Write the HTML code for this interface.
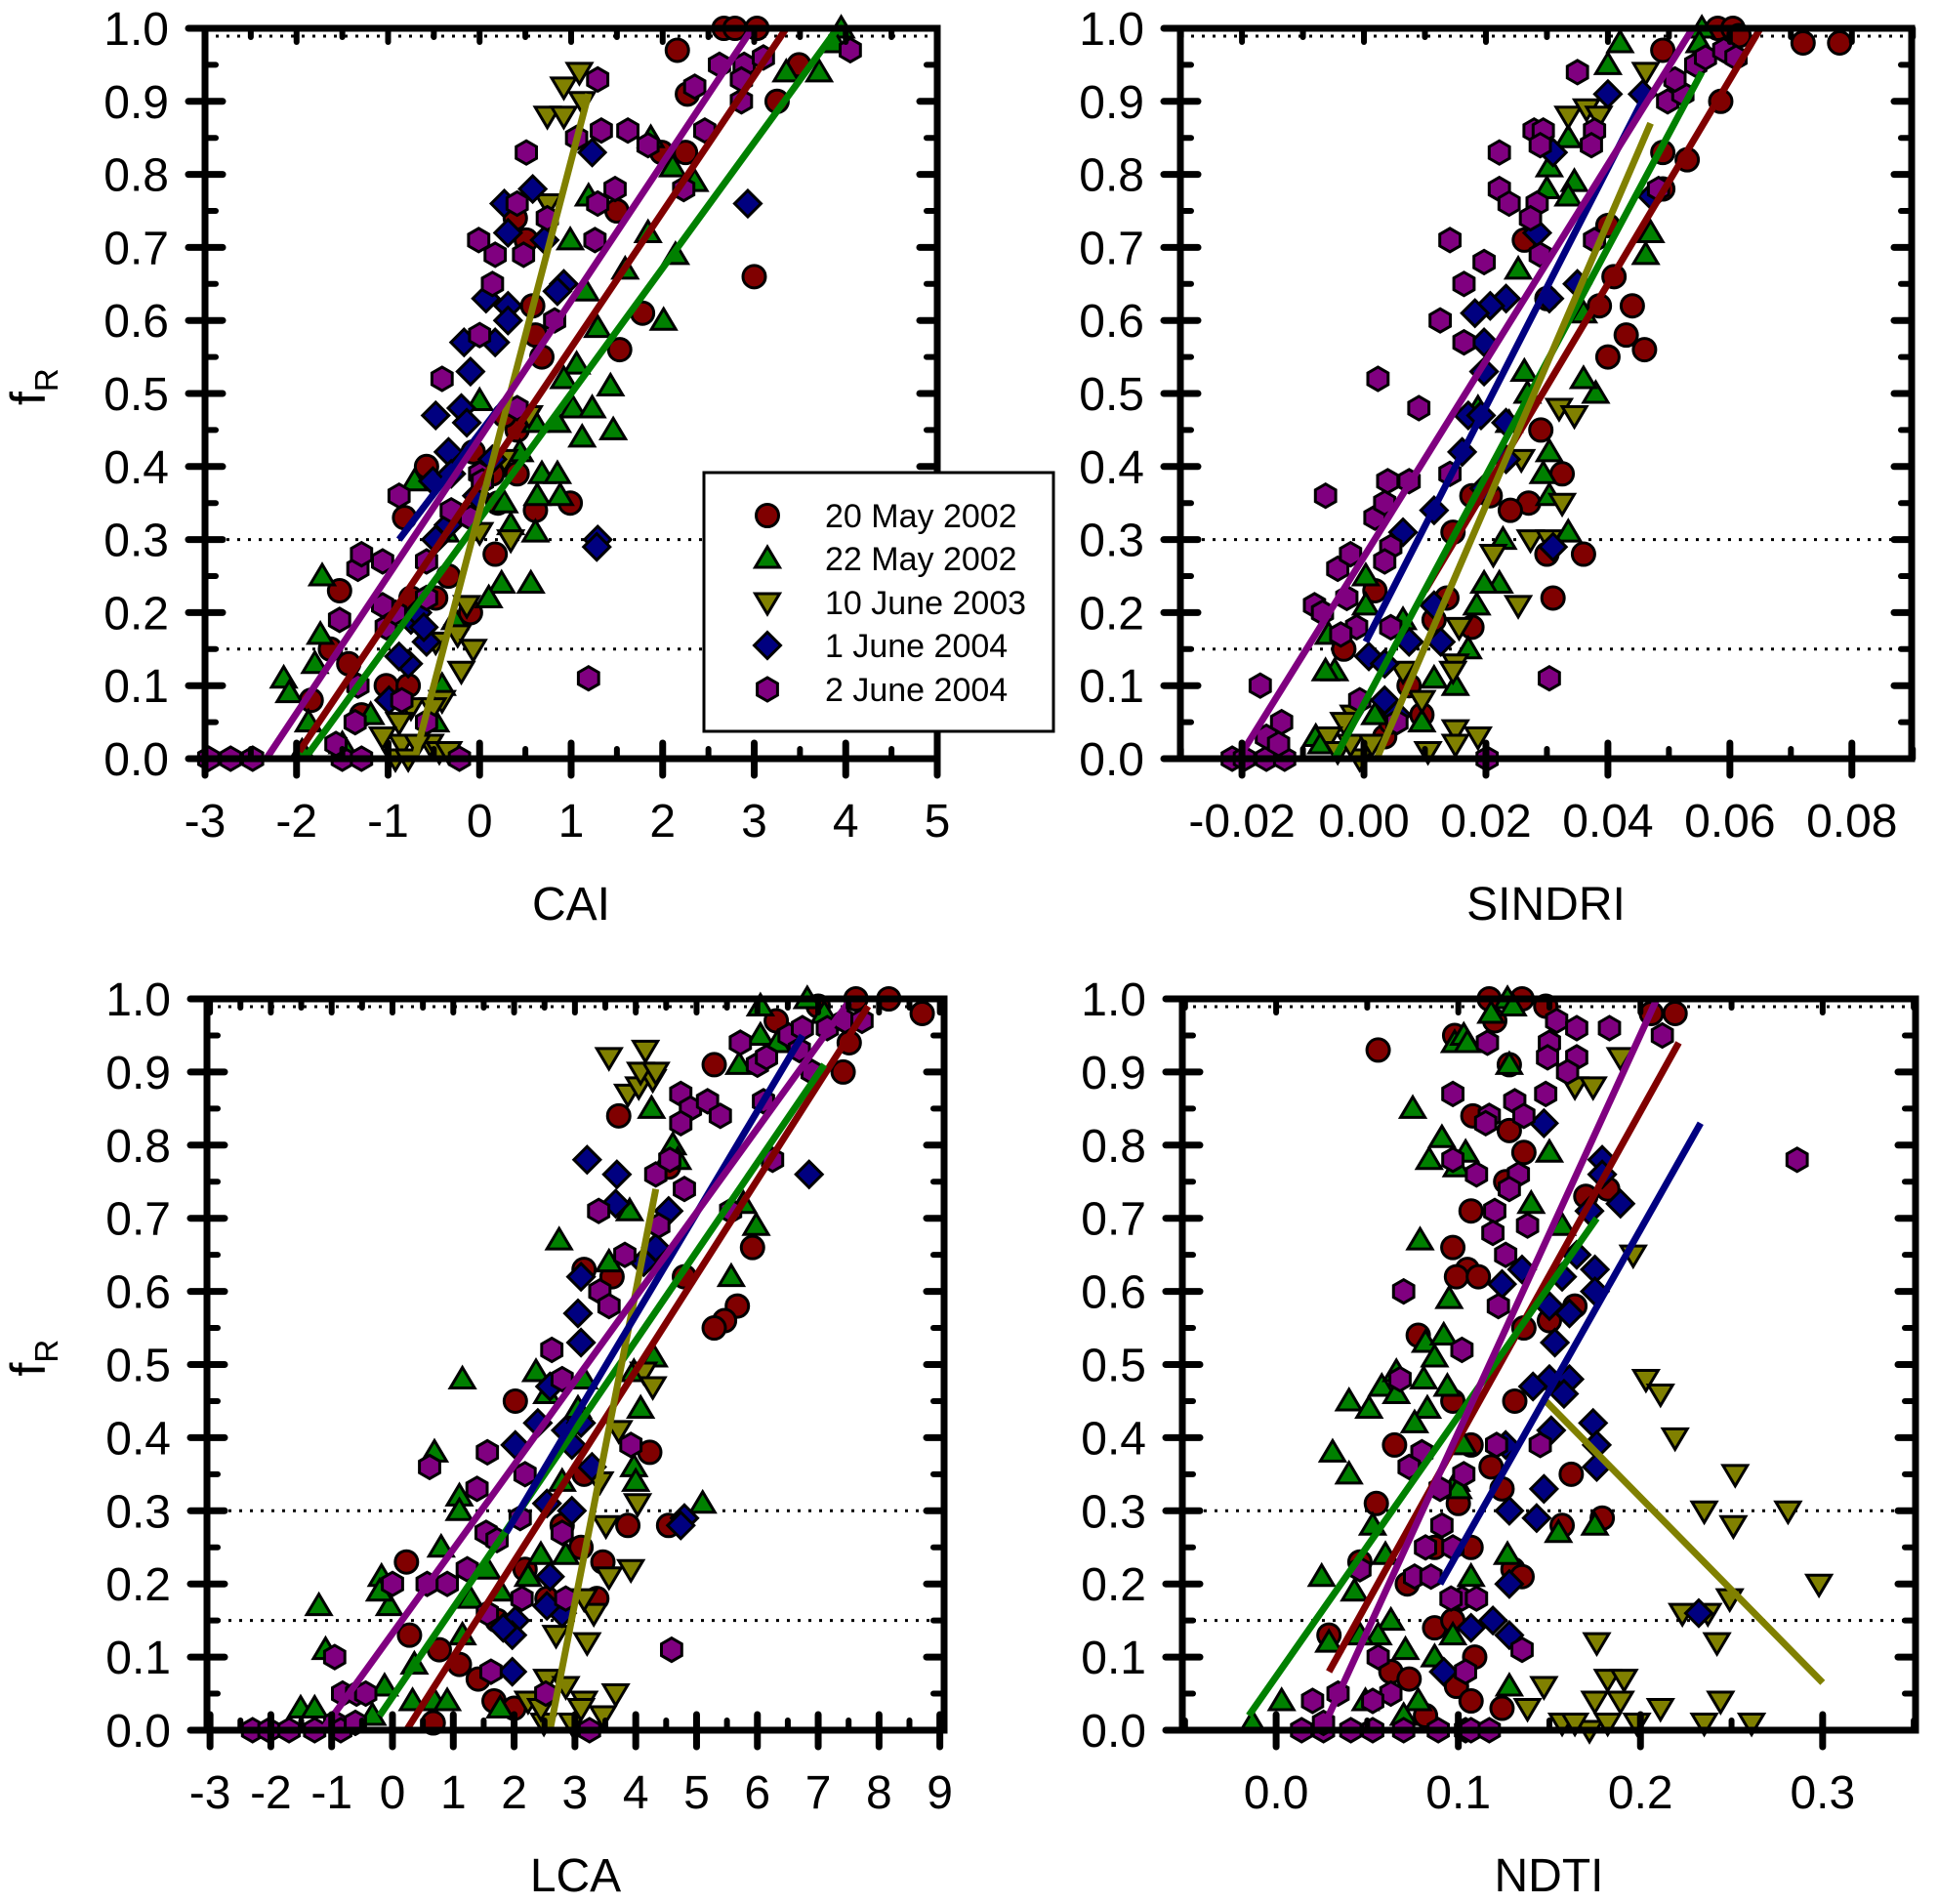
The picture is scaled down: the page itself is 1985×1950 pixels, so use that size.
<!DOCTYPE html>
<html><head><meta charset="utf-8"><style>
html,body{margin:0;padding:0;background:#fff;}
svg{display:block;font-family:"Liberation Sans",Arial,sans-serif;}
</style></head><body>
<svg id="chart" width="1985" height="1950" viewBox="0 0 1985 1950" xmlns="http://www.w3.org/2000/svg"></svg>
<script>
const seriesNames = ["20 May 2002","22 May 2002","10 June 2003","1 June 2004","2 June 2004"];
const caiRed=[2.67,1,2.79,1,3.03,1,2.16,0.97,2.27,0.91,2.25,0.83,3.25,0.9,3.49,0.95,3.0,0.66,1.99,0.83,1.5,0.75,1.78,0.61,1.53,0.56,0.99,0.35,0.61,0.34,0.41,0.39,0.39,0.74,0.51,0.71,0.58,0.62,0.61,0.58,0.68,0.55,0.41,0.45,0.27,0.47,-0.58,0.4,-0.82,0.33,-1.53,0.23,-1.63,0.15,-1.43,0.13,-1.84,0.08,-1.02,0.1,-0.78,0.1,-0.34,0.25,0.17,0.28,-0.1,0.2,-0.75,0.22,-0.48,0.22,-1.29,0.06,0.14,0.39,-0.07,0.42,0.2,0.35];
const caiGreen=[3.95,1,3.88,0.98,3.71,0.94,3.35,0.94,2.35,0.79,2.11,0.81,1.87,0.85,2.14,0.69,2.01,0.6,1.84,0.72,1.59,0.67,1.29,0.59,1.19,0.77,0.99,0.71,1.16,0.64,1.06,0.54,0.92,0.52,1.02,0.48,1.23,0.48,1.43,0.51,1.46,0.45,1.12,0.44,0.85,0.46,0.68,0.39,0.85,0.39,0.88,0.36,0.63,0.36,0.61,0.31,0.56,0.24,0.24,0.24,0.1,0.22,0.34,0.32,0.27,0.35,0.44,0.42,0.61,0.46,0,0.49,-0.37,0.31,-0.71,0.38,-1.72,0.25,-1.74,0.17,-1.8,0.13,-2.14,0.11,-2.08,0.09,-1.87,0.05,-1.94,0.01,-1.5,0.02,-1.19,0.06,-0.41,0.1,-0.48,0.05,-0.27,0.19];
const caiOlive=[0.92,0.92,1.09,0.94,1.12,0.9,0.74,0.88,0.92,0.88,0.75,0.76,0.54,0.47,0.27,0.41,0,0.31,-0.14,0.21,-0.24,0.17,-0.2,0.12,-0.41,0.08,-0.51,0.07,-0.75,0.07,-0.88,0.05,-0.92,0,-0.85,0.02,-1.06,0.03,-0.54,0.02,-0.44,0.01,-0.34,0.01,-0.68,0.02,-0.78,0,-0.48,0.16,-0.07,0.15,0.34,0.3];
const caiBlue=[1.23,0.83,2.93,0.76,1.29,0.3,1.28,0.29,0.58,0.78,0.27,0.76,0.31,0.72,0.71,0.71,0.92,0.65,0.85,0.64,0.07,0.63,0.31,0.62,0.31,0.6,-0.17,0.57,0.17,0.57,-0.1,0.53,-0.48,0.47,-0.2,0.48,-0.14,0.46,-0.34,0.42,-0.51,0.38,0.14,0.41,-0.03,0.36,-0.31,0.39,-0.48,0.3,-0.75,0.19,-0.68,0.2,-0.58,0.16,-0.78,0.13,-0.88,0.14,-0.99,0.08,-0.61,0.18,-0.34,0.32];
const caiPurple=[-2.96,0,-2.72,0,-2.48,0,-1.5,0,-1.29,0,-0.22,0,-1.57,0.02,-1.36,0.05,-1.33,0.1,-1.53,0.19,-1.33,0.26,-1.29,0.28,-1.06,0.27,-0.88,0.36,-1.02,0.18,-0.92,0.2,-1.06,0.21,-0.85,0.08,-0.58,0.05,-0.58,0.22,-0.58,0.27,-0.31,0.34,-0.1,0.33,0,0.39,0.03,0.38,0.41,0.48,-0.41,0.52,0,0.58,0.14,0.65,0.17,0.69,-0.01,0.71,0.41,0.76,0.74,0.74,0.48,0.69,0.51,0.83,0.82,0.6,1.06,0.85,1.33,0.86,1.29,0.93,1.26,0.71,1.29,0.76,1.48,0.78,1.62,0.86,1.84,0.84,2.23,0.78,2.35,0.92,2.46,0.86,2.62,0.95,2.86,0.9,2.89,0.95,3.1,0.96,4.05,0.97,1.19,0.11,2.86,0.93];
const caiFits=[[-1.97,0.01,3.35,1.0],[-1.91,0,3.91,1.0],[-0.71,0,1.19,0.91],[-0.88,0.3,0.27,0.49],[-2.33,0,2.98,1.0]];

const sinRed=[0.058,1,0.0605,1,0.0615,0.99,0.072,0.98,0.078,0.98,0.049,0.97,0.0585,0.9,0.053,0.82,0.049,0.83,0.041,0.66,0.044,0.62,0.043,0.58,0.046,0.56,0.040,0.55,0.0386,0.62,0.0325,0.39,0.029,0.45,0.027,0.35,0.024,0.34,0.030,0.28,0.036,0.28,0.031,0.22,0.030,0.63,0.0263,0.71,0.0177,0.36,0.0207,0.36,0.0146,0.31,0.0136,0.22,0.0115,0.19,0.0018,0.23,-0.0033,0.15,0.0074,0.1,0.0095,0.06,0.0034,0.03,0.0044,0.05,0.0177,0.18,0.049,0.78,0.040,0.73];
const sinGreen=[0.0554,1,0.042,0.98,0.040,0.95,0.055,0.98,0.047,0.72,0.0462,0.69,0.038,0.5,0.0345,0.79,0.0335,0.77,0.0304,0.81,0.0335,0.85,0.030,0.78,0.0253,0.67,0.0263,0.53,0.0238,0.46,0.0304,0.42,0.0294,0.39,0.0304,0.36,0.0335,0.31,0.0228,0.3,0.0222,0.24,0.0197,0.24,0.0185,0.21,0.0171,0.15,0.015,0.1,0.0115,0.11,0.0095,0.05,0.0003,0.25,0.0003,0.21,-0.0058,0.17,-0.0048,0.12,-0.0063,0.12,-0.0079,0.03,-0.007,0.02,0.0018,0.06,0.0064,0.19,0.0187,0.48,0.0268,0.5,0.036,0.61,0.036,0.52];
const sinOlive=[0.0462,0.94,0.0335,0.88,0.0365,0.89,0.0385,0.88,0.032,0.48,0.0345,0.47,0.0325,0.35,0.0273,0.3,0.0304,0.3,0.0253,0.21,0.0212,0.28,0.0258,0.41,0.0156,0.18,0.015,0.13,0.0146,0.12,0.015,0.04,0.015,0.02,0.0187,0.03,0.0105,0.01,0.0064,0.12,-0.0017,0.06,-0.0033,0.05,-0.0058,0.03,-0.0043,0.01,-0.0007,0,-0.0022,0.02,0.0013,0.02,0.0095,0.08];
const sinBlue=[0.040,0.91,0.0457,0.91,0.031,0.83,0.0472,0.77,0.0284,0.72,0.035,0.65,0.0304,0.63,0.0233,0.63,0.0207,0.62,0.0182,0.61,0.0197,0.57,0.0197,0.53,0.0171,0.47,0.0192,0.47,0.0233,0.46,0.0233,0.41,0.0161,0.42,0.0197,0.37,0.0115,0.34,0.0064,0.31,0.0115,0.21,0.0074,0.16,0.0126,0.16,0.0008,0.14,0.0034,0.13,0.0034,0.08,0.031,0.29,0.0054,0.06];
const sinPurple=[-0.0216,0,-0.0196,0,-0.016,0,-0.013,0,0.0202,0,-0.017,0.1,-0.0135,0.05,-0.016,0.03,-0.014,0.02,-0.0063,0.36,-0.0081,0.21,-0.0068,0.2,-0.0028,0.22,-0.0043,0.26,-0.0022,0.28,-0.0012,0.18,-0.0038,0.17,-0.0007,0.08,0.0044,0.18,0.0054,0.05,0.0018,0.33,0.0034,0.35,0.0039,0.38,0.0044,0.29,0.0034,0.27,0.0074,0.38,0.0023,0.52,0.009,0.48,0.0141,0.39,0.0125,0.6,0.0164,0.57,0.0141,0.71,0.0197,0.68,0.0164,0.65,0.0222,0.83,0.0222,0.78,0.0238,0.76,0.0279,0.86,0.0294,0.86,0.0289,0.84,0.0284,0.76,0.0273,0.74,0.0289,0.69,0.035,0.94,0.0378,0.86,0.0373,0.84,0.0378,0.71,0.0483,0.78,0.0498,0.9,0.0523,0.91,0.051,0.93,0.0544,0.95,0.056,0.96,0.059,0.97,0.061,0.96,0.0304,0.11];
const sinFits=[[0.01,0.23,0.065,1.0],[-0.0048,0,0.0554,0.94],[0.0021,0,0.047,0.87],[0.0003,0.16,0.0462,0.91],[-0.0206,0,0.0539,1.0]];

const lcaRed=[7.0,0.99,7.62,1,8.16,1,8.71,0.98,7.51,0.94,7.41,0.9,6.31,0.97,5.29,0.91,3.72,0.84,5.92,0.66,5.67,0.58,5.46,0.56,5.29,0.55,4.8,0.62,4.23,0.38,4.54,0.28,3.87,0.28,3.61,0.62,3.15,0.63,2.02,0.45,0.23,0.23,0.28,0.13,0.77,0.11,1.1,0.09,1.41,0.07,0.67,0.01,1.67,0.04,2.0,0.03,2.18,0.22,2.54,0.18,3.46,0.23,3.36,0.18,3.15,0.35,3.1,0.25,2.79,0.28,1.72,0.15,4.54,0.77];
const lcaGreen=[6.82,1,6.05,0.99,6.05,0.95,5.7,0.91,6.33,0.94,7.1,0.98,5.98,0.69,5.57,0.62,5.77,0.72,4.26,0.85,4.61,0.8,4.69,0.78,3.9,0.71,2.74,0.67,3.56,0.64,4.3,0.51,3.97,0.49,4.08,0.44,3.97,0.36,4.0,0.34,2.36,0.49,2.54,0.46,3.05,0.44,1.15,0.48,0.69,0.38,1.1,0.32,1.1,0.3,0.8,0.25,1.56,0.22,1.28,0.18,1.15,0.13,0.36,0.09,-0.05,0.17,-0.18,0.21,-0.21,0.19,-1.21,0.17,-1.1,0.11,-1.51,0.03,-1.28,0.03,-0.13,0.06,-0.33,0.02,0.33,0.04,0.69,0.04,0.9,0.04,1.77,0.19,2.23,0.21,2.44,0.24,2.85,0.24,2.79,0.34,5.1,0.31,3.15,0.48,1.77,0.03];
const lcaOlive=[3.56,0.92,4.16,0.93,3.87,0.87,4.05,0.88,4.28,0.89,4.08,0.9,4.33,0.9,4.13,0.49,4.28,0.47,3.72,0.41,3.51,0.28,4.03,0.31,3.56,0.21,3.31,0.16,3.15,0.18,3.2,0.12,2.69,0.13,2.54,0.07,3.67,0.05,3.15,0.04,2.85,0.06,2.49,0.01,2.95,0.01,3.46,0.02,3.1,0.03,2.23,0.04,2.44,0.03,3.41,0.34,3.92,0.22];
const lcaBlue=[3.2,0.78,3.69,0.76,3.67,0.72,4.54,0.71,6.85,0.76,4.13,0.64,4.33,0.66,3.1,0.62,3.05,0.57,3.1,0.53,2.59,0.47,2.39,0.42,2.85,0.41,3.1,0.42,2.95,0.39,3.28,0.36,2.02,0.39,2.54,0.31,2.95,0.3,2.59,0.21,2.02,0.15,1.97,0.13,1.82,0.14,2.79,0.16,2.54,0.17,1.97,0.08,4.8,0.29,4.74,0.28];
const lcaPurple=[-2.3,0,-2.03,0,-1.7,0,-1.28,0,-0.95,0.01,-0.85,0,-0.61,0.01,-0.82,0.05,-0.59,0.05,-0.44,0.05,-0.95,0.1,0,0.2,0.57,0.2,0.9,0.2,1.23,0.22,1.56,0.16,1.62,0.08,1.54,0.27,1.72,0.26,1.39,0.33,0.61,0.36,1.56,0.38,2.18,0.35,2.13,0.18,2.1,0.29,2.79,0.27,2.85,0.18,2.52,0.05,3.24,0,2.62,0.52,2.79,0.48,3.41,0.6,3.56,0.58,3.39,0.71,3.82,0.65,3.92,0.39,4.33,0.76,4.56,0.78,4.38,0.69,4.8,0.74,4.74,0.87,4.9,0.85,4.74,0.83,5.18,0.86,5.39,0.84,5.72,0.94,6.0,0.91,6.15,0.92,6.1,0.86,6.25,0.78,5.56,0.71,6.52,0.95,6.69,0.93,6.74,0.96,6.9,0.9,7.15,0.96,7.44,0.97,7.72,0.97,4.59,0.11];
const lcaFits=[[0.23,0,7.82,0.99],[-0.21,0.02,7.1,0.91],[2.59,0,4.33,0.74],[1.87,0.27,6.74,0.95],[-1.15,0,7.54,1.0]];

const ndtiRed=[0.117,1,0.135,1,0.148,0.99,0.056,0.93,0.098,0.95,0.12,0.97,0.128,0.91,0.206,0.98,0.219,0.98,0.108,0.84,0.128,0.82,0.136,0.79,0.126,0.75,0.107,0.71,0.097,0.66,0.105,0.63,0.099,0.62,0.111,0.62,0.078,0.54,0.15,0.56,0.164,0.58,0.136,0.55,0.131,0.45,0.097,0.45,0.107,0.39,0.065,0.39,0.118,0.36,0.162,0.35,0.124,0.33,0.055,0.31,0.1,0.31,0.157,0.28,0.179,0.29,0.13,0.22,0.107,0.25,0.087,0.25,0.046,0.23,0.029,0.13,0.087,0.14,0.097,0.15,0.109,0.1,0.063,0.08,0.073,0.07,0.099,0.06,0.107,0.04,0.124,0.03,0.082,0.02,0.072,0.2,0.135,0.21,0.17,0.73,0.182,0.74];
const ndtiGreen=[0.127,1,0.118,0.98,0.13,0.99,0.098,0.94,0.103,0.95,0.105,0.94,0.128,0.91,0.075,0.85,0.091,0.81,0.084,0.78,0.099,0.77,0.104,0.79,0.15,0.79,0.14,0.72,0.079,0.67,0.157,0.69,0.095,0.59,0.04,0.45,0.051,0.44,0.058,0.47,0.066,0.46,0.066,0.49,0.081,0.48,0.082,0.53,0.087,0.51,0.092,0.54,0.083,0.44,0.076,0.42,0.094,0.47,0.031,0.38,0.04,0.35,0.053,0.28,0.06,0.24,0.025,0.21,0.043,0.19,0.063,0.15,0.071,0.11,0.056,0.13,0.046,0.13,0.087,0.1,0.097,0.13,0.107,0.21,0.099,0.34,0.1,0.33,0.103,0.39,0.127,0.24,0.155,0.27,0.175,0.28,0.003,0.04,-0.013,0.01,0.078,0.04,0.128,0.06,0.049,0.04,0.029,0.12,0.07,0.02];
const ndtiOlive=[0.203,0.48,0.211,0.46,0.219,0.4,0.252,0.35,0.235,0.3,0.281,0.3,0.251,0.28,0.298,0.2,0.249,0.18,0.223,0.16,0.237,0.16,0.176,0.12,0.242,0.12,0.182,0.07,0.191,0.07,0.175,0.04,0.189,0.04,0.211,0.03,0.198,0.01,0.157,0.01,0.172,0,0.182,0.01,0.235,0.01,0.244,0.04,0.261,0.01,0.147,0.06,0.138,0.03,0.196,0.65,0.164,0.88,0.174,0.88,0.189,0.92,0.164,0.01];
const ndtiBlue=[0.147,0.83,0.179,0.78,0.179,0.76,0.189,0.72,0.172,0.71,0.165,0.65,0.175,0.63,0.157,0.62,0.161,0.57,0.175,0.6,0.15,0.58,0.153,0.53,0.135,0.63,0.124,0.61,0.15,0.48,0.161,0.48,0.141,0.47,0.158,0.46,0.151,0.41,0.174,0.42,0.176,0.39,0.176,0.36,0.147,0.33,0.143,0.29,0.128,0.3,0.128,0.2,0.119,0.15,0.128,0.13,0.107,0.14,0.092,0.08,0.232,0.16,0.126,0.39];
const ndtiPurple=[0.286,0.78,0.154,0.97,0.165,0.96,0.183,0.96,0.15,0.94,0.149,0.92,0.165,0.92,0.16,0.9,0.212,0.95,0.116,0.94,0.097,0.87,0.117,0.84,0.115,0.83,0.131,0.86,0.136,0.84,0.148,0.87,0.097,0.78,0.11,0.76,0.133,0.76,0.128,0.74,0.12,0.71,0.119,0.68,0.138,0.69,0.126,0.65,0.122,0.58,0.07,0.6,0.102,0.52,0.068,0.48,0.08,0.38,0.073,0.36,0.103,0.35,0.121,0.39,0.145,0.39,0.09,0.33,0.091,0.28,0.082,0.25,0.097,0.25,0.076,0.21,0.085,0.21,0.046,0.22,0.102,0.18,0.11,0.18,0.096,0.18,0.135,0.11,0.104,0.08,0.056,0.1,0.063,0.05,0.053,0.04,0.034,0.05,0.02,0.04,0.014,0,0.026,0,0.041,0,0.053,0,0.07,0,0.089,0,0.104,0,0.107,0,0.117,0,0.026,0.01];
const ndtiFits=[[0.029,0.08,0.221,0.94],[-0.015,0.02,0.176,0.70],[0.148,0.45,0.3,0.065],[0.09,0.2,0.233,0.83],[0.027,0.01,0.209,1.0]];

const caiTicks=[-3,-2,-1,0,1,2,3,4,5];
const sinTicks=[-0.02,0,0.02,0.04,0.06,0.08];
const lcaTicks=[-3,-2,-1,0,1,2,3,4,5,6,7,8,9];
const ndtiTicks=[0,0.1,0.2,0.3];
const yTicks=[0,0.1,0.2,0.3,0.4,0.5,0.6,0.7,0.8,0.9,1.0];
const refLines=[0.3,0.15];

const fills=["#800000","#008000","#808000","#000080","#800080"];
const lineCols=["#800000","#008000","#808000","#000080","#800080"];
const shapes=["circle","up","down","diamond","hex"];

const NS="http://www.w3.org/2000/svg";
const svg=document.getElementById('chart');
function mk(tag,attrs,parent){const e=document.createElementNS(NS,tag);for(const k in attrs)e.setAttribute(k,attrs[k]);(parent||svg).appendChild(e);return e;}

function marker(g,shape,cx,cy,fill){
  let e;const r=12;
  if(shape==="circle"){e=mk('circle',{cx:cx,cy:cy,r:11.5},g);}
  else if(shape==="up"){e=mk('polygon',{points:`${cx},${cy-12} ${cx+12.5},${cy+9} ${cx-12.5},${cy+9}`},g);}
  else if(shape==="down"){e=mk('polygon',{points:`${cx},${cy+12} ${cx+12.5},${cy-9} ${cx-12.5},${cy-9}`},g);}
  else if(shape==="diamond"){e=mk('polygon',{points:`${cx},${cy-13.5} ${cx+13.5},${cy} ${cx},${cy+13.5} ${cx-13.5},${cy}`},g);}
  else {let p=[];for(let i=0;i<6;i++){const a=Math.PI/6+i*Math.PI/3;p.push((cx+r*Math.cos(a)).toFixed(1)+','+(cy+r*Math.sin(a)).toFixed(1));}e=mk('polygon',{points:p.join(' ')},g);}
  e.setAttribute('fill',fill);e.setAttribute('stroke','#000');e.setAttribute('stroke-width','3');
  return e;
}
function fmt(v,d){return v.toFixed(d);}

function panel(cfg){
  const {name,L,R,T,B,xmin,xmax,xticks,xminor,dec,title,series,fits}=cfg;
  const g=mk('g',{});
  
  
  const sx=v=>L+(v-xmin)/(xmax-xmin)*(R-L);
  const sy=v=>B-v*(B-T);
  for(const rv of refLines){
    const l=mk('line',{x1:L,x2:R,y1:sy(rv),y2:sy(rv),stroke:'#000','stroke-width':3,'stroke-dasharray':'3 8'},g);
    
    
  }
  const tl=mk('line',{x1:L,x2:R,y1:T+8,y2:T+8,stroke:'#000','stroke-width':3,'stroke-dasharray':'3 8'},g);
  
  
  series.forEach((arr,si)=>{
    const sg=mk('g',{},g);
    
    
    for(let i=0;i<arr.length;i+=2){
      const m=marker(sg,shapes[si],sx(arr[i]),sy(arr[i+1]),fills[si]);
      
      
    }
  });
  fits.forEach((f,si)=>{
    const l=mk('line',{x1:sx(f[0]),y1:sy(f[1]),x2:sx(f[2]),y2:sy(f[3]),stroke:lineCols[si],'stroke-width':7},g);
    
    
  });
  const fr=mk('rect',{x:L,y:T,width:R-L,height:B-T,fill:'none',stroke:'#000','stroke-width':7},g);
  
  
  for(let k=0;k<=20;k++){
    const v=k*0.05;const y=sy(v);const major=k%2===0;
    if(major){
      mk('line',{x1:L-17,x2:L+18,y1:y,y2:y,stroke:'#000','stroke-width':7,'stroke-linecap':'round'},g);
      mk('line',{x1:R-18,x2:R,y1:y,y2:y,stroke:'#000','stroke-width':7,'stroke-linecap':'round'},g);
    } else {
      mk('line',{x1:L,x2:L+11,y1:y,y2:y,stroke:'#000','stroke-width':6,'stroke-linecap':'round'},g);
      mk('line',{x1:R-11,x2:R,y1:y,y2:y,stroke:'#000','stroke-width':6,'stroke-linecap':'round'},g);
    }
  }
  yTicks.forEach(v=>{
    const t=mk('text',{x:L-37,y:sy(v)+17,'text-anchor':'end','font-size':48},g);
    t.textContent=v.toFixed(1);
    
    
  });
  xticks.forEach(v=>{
    const x=sx(v);
    mk('line',{x1:x,x2:x,y1:B-16,y2:B+17,stroke:'#000','stroke-width':7,'stroke-linecap':'round'},g);
    mk('line',{x1:x,x2:x,y1:T,y2:T+14,stroke:'#000','stroke-width':6,'stroke-linecap':'round'},g);
    const t=mk('text',{x:x,y:B+80,'text-anchor':'middle','font-size':48},g);
    t.textContent=fmt(v,dec);
    
    
  });
  xminor.forEach(v=>{
    const x=sx(v);
    mk('line',{x1:x,x2:x,y1:B-10,y2:B,stroke:'#000','stroke-width':6,'stroke-linecap':'round'},g);
    mk('line',{x1:x,x2:x,y1:T,y2:T+9,stroke:'#000','stroke-width':6,'stroke-linecap':'round'},g);
  });
  const xt=mk('text',{x:(L+R)/2,y:B+165,'text-anchor':'middle','font-size':48},g);
  xt.textContent=title;
  
  
  const cy=(T+B)/2;
  const yt=mk('text',{x:0,y:0,'font-size':50,transform:`translate(46,${cy+12}) rotate(-90)`},g);
  
  
  const ts=mk('tspan',{},yt);ts.textContent='f';
  const ts2=mk('tspan',{dy:13,'font-size':33},yt);ts2.textContent='R';
  return {sx,sy};
}
function range(a,b,s){const r=[];for(let v=a;v<=b+1e-9;v+=s)r.push(+v.toFixed(4));return r;}

panel({name:'cai',L:210,R:960,T:29,B:777,xmin:-3,xmax:5,xticks:caiTicks,xminor:range(-2.5,4.5,1),dec:0,title:'CAI',
  series:[caiRed,caiGreen,caiOlive,caiBlue,caiPurple],fits:caiFits});
panel({name:'sindri',L:1209,R:1958,T:29,B:777,xmin:-0.0301,xmax:0.0898,xticks:sinTicks,xminor:range(-0.03,0.09,0.02),dec:2,title:'SINDRI',
  series:[sinRed,sinGreen,sinOlive,sinBlue,sinPurple],fits:sinFits});
panel({name:'lca',L:212,R:967,T:1023,B:1772,xmin:-3.05,xmax:9.07,xticks:lcaTicks,xminor:range(-2.5,8.5,1),dec:0,title:'LCA',
  series:[lcaRed,lcaGreen,lcaOlive,lcaBlue,lcaPurple],fits:lcaFits});
panel({name:'ndti',L:1211,R:1962,T:1023,B:1772,xmin:-0.0515,xmax:0.351,xticks:ndtiTicks,xminor:range(-0.05,0.35,0.1),dec:1,title:'NDTI',
  series:[ndtiRed,ndtiGreen,ndtiOlive,ndtiBlue,ndtiPurple],fits:ndtiFits});

const lg=mk('g',{});


mk('rect',{x:721,y:484,width:358,height:265,fill:'#fff',stroke:'#000','stroke-width':3},lg);
const legY=[528,572,617,661,706];
seriesNames.forEach((n,i)=>{
  const e=mk('g',{},lg);
  
  
  marker(e,shapes[i],786,legY[i],fills[i]);
  const t=mk('text',{x:845,y:legY[i]+12,'font-size':34},e);
  t.textContent=n;
});
</script>
</body></html>
